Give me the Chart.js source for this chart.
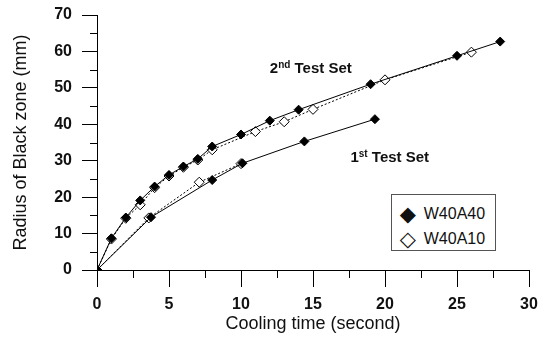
<!doctype html>
<html lang="en">
<head>
  <meta charset="utf-8">
  <title>Radius of Black zone vs Cooling time</title>
  <style>
    * {
      margin: 0;
      padding: 0;
    }

    body {
      background: #fff;
      width: 540px;
      height: 338px;
      overflow: hidden;
      font-family: "Liberation Sans", Arial, sans-serif;
    }

    .chartBox {
      position: relative;
      width: 540px;
      height: 338px;
    }

    .note {
      position: absolute;
      font-weight: bold;
      font-size: 15px;
      line-height: 15px;
      white-space: nowrap;
      color: #111;
    }

    .note sup {
      font-size: 10px;
      vertical-align: 5px;
      line-height: 0;
    }

    .legendBox {
      position: absolute;
      width: 103px;
      height: 55px;
      border: 1px solid #555;
      background: #fff;
      font-size: 16px;
      color: #111;
    }

    .legendRow {
      display: flex;
      align-items: center;
      height: 25px;
    }

    .legendRow:first-child {
      margin-top: 7px;
    }

    .legendRow span.mark {
      display: inline-block;
      width: 24px;
      margin-left: 4px;
      text-align: center;
      font-family: "DejaVu Sans", sans-serif;
      font-size: 21px;
    }

    .legendRow span.txt {
      margin-left: 4px;
    }
  </style>
</head>

<body>
  <div class="chartBox">
    <canvas id="myChart" width="540" height="338"></canvas>
    <div class="note" id="note2">2<sup>nd</sup> Test Set</div>
    <div class="note" id="note1">1<sup>st</sup> Test Set</div>
    <div class="legendBox" id="legendBox">
      <div class="legendRow"><span class="mark">&#9670;</span><span class="txt">W40A40</span></div>
      <div class="legendRow"><span class="mark">&#9671;</span><span class="txt">W40A10</span></div>
    </div>
  </div>
  <script src="https://cdn.jsdelivr.net/npm/chart.js"></script>
  <script>
    // data
    const time2A40 = [0, 1, 2, 3, 4, 5, 6, 7, 8, 10, 12, 14, 19, 25, 28];
    const radius2A40 = [0, 8.7, 14.4, 19.1, 22.9, 26.1, 28.4, 30.5, 33.9, 37.2, 41, 44, 51, 58.8, 62.7];
    const time2A10 = [0, 1, 2, 3, 4, 5, 6, 7, 8, 11, 13, 15, 20, 26];
    const radius2A10 = [0, 8.5, 14.2, 17.9, 22.6, 25.8, 28.2, 30.2, 33.0, 38.0, 40.7, 44.1, 52.2, 59.8];
    const time1A40 = [0, 3.75, 8, 10.1, 14.4, 19.3];
    const radius1A40 = [0, 14.5, 24.7, 29.3, 35.3, 41.4];
    const time1A10 = [0, 3.6, 7.1, 10];
    const radius1A10 = [0, 14.3, 24.1, 29.2];

    const xTicks = [0, 5, 10, 15, 20, 25, 30];
    const yTicks = [0, 10, 20, 30, 40, 50, 60, 70];

    function pts(xs, ys) {
      return xs.map((x, i) => ({ x: x, y: ys[i] }));
    }

    const filledStyle = {
      showLine: true,
      borderColor: '#000',
      borderWidth: 1,
      pointStyle: 'rectRot',
      pointRadius: 4.5,
      pointBackgroundColor: '#000',
      pointBorderColor: '#000',
      pointBorderWidth: 1
    };
    const openStyle = {
      showLine: true,
      borderColor: '#000',
      borderWidth: 1,
      borderDash: [2, 2],
      pointStyle: 'rectRot',
      pointRadius: 5,
      pointBackgroundColor: '#fff',
      pointBorderColor: '#000',
      pointBorderWidth: 1
    };

    const data = {
      datasets: [
        Object.assign({ label: 'W40A40', data: pts(time2A40, radius2A40) }, filledStyle),
        Object.assign({ label: 'W40A40 1st', data: pts(time1A40, radius1A40) }, filledStyle),
        Object.assign({ label: 'W40A10', data: pts(time2A10, radius2A10) }, openStyle),
        Object.assign({ label: 'W40A10 1st', data: pts(time1A10, radius1A10) }, openStyle)
      ]
    };

    // minor ticks and overlay placement
    const extras = {
      id: 'extras',
      afterDraw(chart) {
        const { ctx, scales: { x, y } } = chart;
        ctx.save();
        ctx.strokeStyle = '#000';
        ctx.lineWidth = 1;
        ctx.beginPath();
        for (let i = 0; i < xTicks.length - 1; i++) {
          const px = Math.round(x.getPixelForValue((xTicks[i] + xTicks[i + 1]) / 2)) + 0.5;
          ctx.moveTo(px, y.bottom);
          ctx.lineTo(px, y.bottom + 8);
        }
        for (let i = 0; i < yTicks.length - 1; i++) {
          const py = Math.round(y.getPixelForValue((yTicks[i] + yTicks[i + 1]) / 2)) + 0.5;
          ctx.moveTo(x.left, py);
          ctx.lineTo(x.left - 7, py);
        }
        ctx.stroke();
        ctx.restore();

        const place = (id, dx, dy, up) => {
          const el = document.getElementById(id);
          el.style.left = x.getPixelForValue(dx) + 'px';
          el.style.top = (y.getPixelForValue(dy) - up) + 'px';
        };
        place('note2', 12.0, 54.1, 13);
        place('note1', 17.6, 29.7, 13);
        place('legendBox', 20.4, 20.9, 0);
      }
    };

    const config = {
      type: 'scatter',
      data,
      options: {
        responsive: false,
        animation: false,
        layout: { padding: { top: 15, right: 11, left: 0, bottom: 0 } },
        plugins: {
          legend: { display: false },
          tooltip: { enabled: false }
        },
        scales: {
          x: {
            type: 'linear',
            min: 0,
            max: 30,
            afterFit: (s) => { s.height = 68; s.paddingLeft = 0; s.paddingRight = 0; },
            afterBuildTicks: (s) => { s.ticks = xTicks.map(v => ({ value: v })); },
            ticks: {
              color: '#111',
              padding: 8,
              font: { family: '"Liberation Sans", Arial, sans-serif', size: 16, weight: 'bold' }
            },
            grid: { drawOnChartArea: false, tickLength: 17, color: '#000' },
            border: { color: '#000', width: 1 },
            title: {
              display: true,
              text: 'Cooling time (second)',
              color: '#111',
              padding: { top: 0, bottom: 3 },
              font: { family: '"Liberation Sans", Arial, sans-serif', size: 18 }
            }
          },
          y: {
            type: 'linear',
            min: 0,
            max: 70,
            afterFit: (s) => { s.width = 97; s.paddingTop = 0; s.paddingBottom = 0; },
            afterBuildTicks: (s) => { s.ticks = yTicks.map(v => ({ value: v })); },
            ticks: {
              color: '#111',
              padding: 10,
              font: { family: '"Liberation Sans", Arial, sans-serif', size: 16, weight: 'bold' }
            },
            grid: { drawOnChartArea: false, tickLength: 15, color: '#000' },
            border: { color: '#000', width: 1 },
            title: {
              display: true,
              text: 'Radius of Black zone (mm)',
              color: '#111',
              padding: { top: 10, bottom: 0 },
              font: { family: '"Liberation Sans", Arial, sans-serif', size: 18 }
            }
          }
        }
      },
      plugins: [extras]
    };

    const myChart = new Chart(document.getElementById('myChart'), config);
  </script>
</body>
</html>
